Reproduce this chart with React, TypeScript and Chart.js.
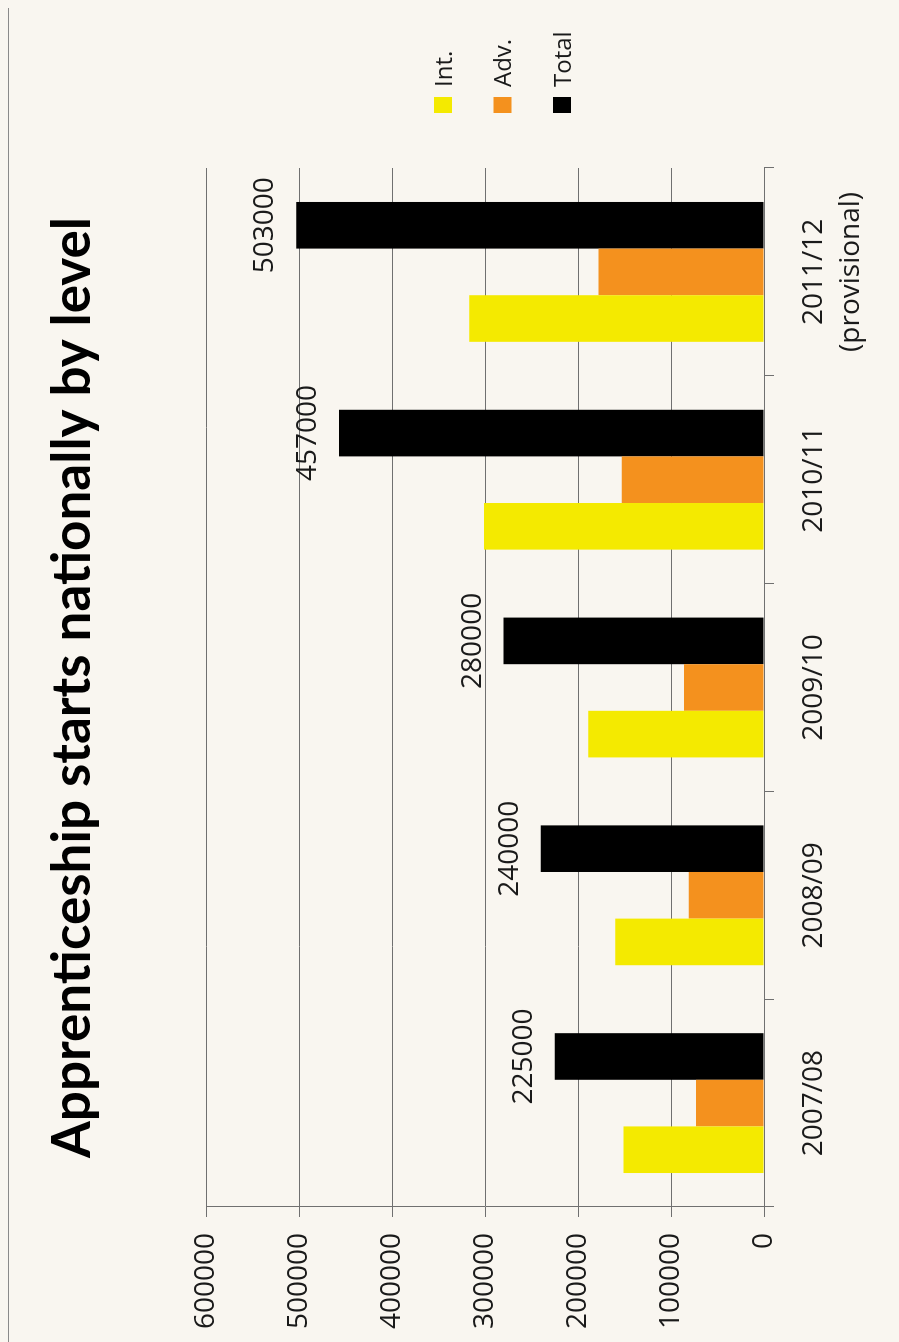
import React, { useEffect, useRef } from 'react';
import { Chart, registerables } from 'chart.js';

Chart.register(...registerables);

// ---- data ----
const categories: (string | string[])[] = ['2007/08', '2008/09', '2009/10', '2010/11', ['2011/12', '(provisional)']];
const seriesNames = ['Int.', 'Adv.', 'Total'];
const intValues = [151000, 160000, 189000, 301000, 317000];
const advValues = [73000, 81000, 86000, 153000, 178000];
const totalValues = [225000, 240000, 280000, 457000, 503000];
const yTicks = [0, 100000, 200000, 300000, 400000, 500000, 600000];
const titleText = 'Apprenticeship starts nationally by level';

const seriesColors = ['#f4ea00', '#f4911e', '#000000'];
const gridColor = '#707070';
const textColor = '#1a1a1a';
const bgColor = '#f9f6f0';

const totalLabels = {
  id: 'totalLabels',
  afterDatasetsDraw(chart: any) {
    const idx = 2;
    const meta = chart.getDatasetMeta(idx);
    const ctx = chart.ctx;
    ctx.save();
    ctx.font = '28px "Open Sans"';
    ctx.fillStyle = textColor;
    ctx.textAlign = 'center';
    ctx.textBaseline = 'alphabetic';
    meta.data.forEach((bar: any, i: number) => {
      ctx.fillText(String(chart.data.datasets[idx].data[i]), bar.x, bar.y - 23);
    });
    ctx.restore();
  },
};

const sideLegend = {
  id: 'sideLegend',
  afterDraw(chart: any) {
    const { ctx, chartArea } = chart;
    const x = chartArea.right + 55;
    ctx.save();
    chart.data.datasets.forEach((ds: any, i: number) => {
      const cy = chartArea.top + 237 + i * 59.5;
      ctx.fillStyle = ds.backgroundColor;
      ctx.fillRect(x, cy - 9, 16, 18);
      ctx.fillStyle = textColor;
      ctx.font = '24px "Open Sans"';
      ctx.textAlign = 'left';
      ctx.textBaseline = 'alphabetic';
      ctx.fillText(ds.label, x + 26, cy + 8.5);
    });
    ctx.restore();
  },
};

export default function App() {
  const canvasRef = useRef<HTMLCanvasElement | null>(null);

  useEffect(() => {
    const canvas = canvasRef.current;
    if (!canvas) return;
    const values = [intValues, advValues, totalValues];
    const chart = new Chart(canvas, {
      type: 'bar',
      data: {
        labels: categories,
        datasets: seriesNames.map((name, i) => ({
          label: name,
          data: values[i],
          backgroundColor: seriesColors[i],
          borderWidth: 0,
          categoryPercentage: 0.673,
          barPercentage: 1,
        })),
      },
      options: {
        responsive: false,
        animation: false,
        devicePixelRatio: 1,
        layout: { padding: { left: 0, right: 168, top: 0, bottom: 0 } },
        plugins: {
          legend: { display: false },
          tooltip: { enabled: false },
          title: {
            display: true,
            text: titleText,
            fullSize: false,
            color: '#000',
            font: { family: 'Lato', size: 53, weight: 'bold', lineHeight: 1.2 },
            padding: { top: 41, bottom: 101.4 },
          },
        },
        scales: {
          x: {
            grid: { display: true, drawOnChartArea: false, drawTicks: true, tickLength: 10, color: gridColor, lineWidth: 1 },
            border: { display: true, color: gridColor, width: 1 },
            ticks: {
              color: textColor,
              font: { family: 'Open Sans', size: 28, lineHeight: 1.3 },
              padding: 22,
              maxRotation: 0,
              autoSkip: false,
            },
            afterFit(scale: any) { scale.height = 135; },
          },
          y: {
            min: 0,
            max: 600000,
            afterBuildTicks(scale: any) { scale.ticks = yTicks.map((v) => ({ value: v })); },
            grid: { color: gridColor, lineWidth: 1, tickLength: 10, drawTicks: true },
            border: { display: true, color: gridColor, width: 1 },
            ticks: {
              color: textColor,
              font: { family: 'Open Sans', size: 28 },
              padding: 16,
              callback: (v: any) => String(v),
            },
            afterFit(scale: any) { scale.width = 135; },
          },
        },
      },
      plugins: [totalLabels, sideLegend],
    } as any);
    if ((document as any).fonts && (document as any).fonts.ready) {
      (document as any).fonts.ready.then(() => { try { chart.update(); } catch (e) {} });
    }
    return () => chart.destroy();
  }, []);

  return (
    <div style={{ position: 'fixed', left: 0, top: 0, width: 899, height: 1342, overflow: 'hidden', background: bgColor }}>
      <div style={{ position: 'absolute', left: 8, top: 8, width: 1, height: 1334, background: '#8a8a8a' }} />
      <div
        style={{
          position: 'absolute',
          left: 0,
          top: 0,
          width: 1342,
          height: 899,
          transformOrigin: '0 0',
          transform: 'translateY(1342px) rotate(-90deg)',
        }}
      >
        <canvas ref={canvasRef} width={1342} height={899} style={{ display: 'block', width: 1342, height: 899 }} />
      </div>
    </div>
  );
}
